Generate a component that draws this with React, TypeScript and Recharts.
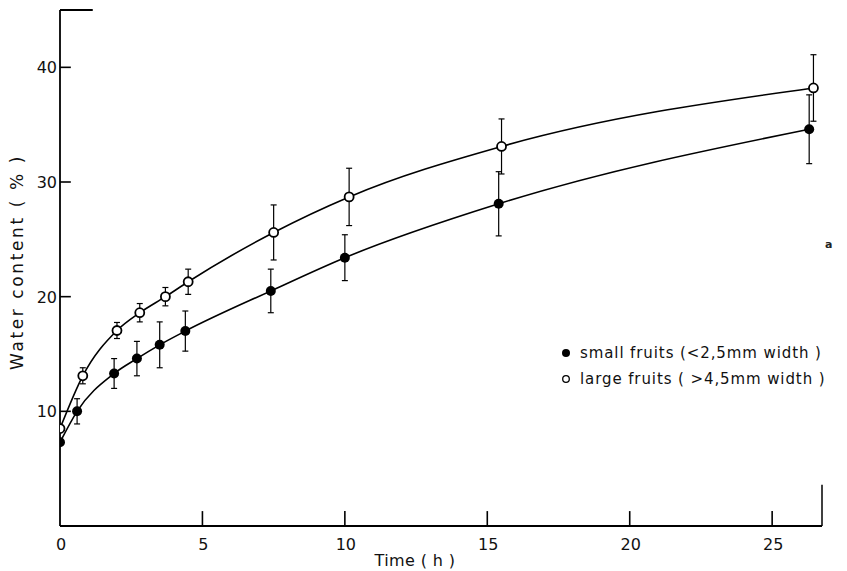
import React from "react";
import {
  ComposedChart,
  Line,
  XAxis,
  YAxis,
  ErrorBar,
  ReferenceLine,
  Legend,
} from "recharts";

// Small fruits (< 2,5 mm width) — filled circles
const smallTime = [0, 0.6, 1.9, 2.7, 3.5, 4.4, 7.4, 10.0, 15.4, 26.3];
const smallWater = [7.3, 10.0, 13.3, 14.6, 15.8, 17.0, 20.5, 23.4, 28.1, 34.6];
const smallErr = [0, 1.1, 1.3, 1.5, 2.0, 1.75, 1.9, 2.0, 2.8, 3.0];

// Large fruits (> 4,5 mm width) — open circles
const largeTime = [0, 0.8, 2.0, 2.8, 3.7, 4.5, 7.5, 10.15, 15.5, 26.45];
const largeWater = [8.5, 13.1, 17.05, 18.6, 20.0, 21.3, 25.6, 28.7, 33.1, 38.2];
const largeErr = [0, 0.7, 0.7, 0.8, 0.8, 1.1, 2.4, 2.5, 2.4, 2.9];

const xTicks = [0, 5, 10, 15, 20, 25];
const yTicks = [10, 20, 30, 40];
const seriesNames = ["small fruits (<2,5mm width )", "large fruits ( >4,5mm width )"];
const xTitle = "Time ( h )";
const yTitle = "Water content ( % )";

const smallData = smallTime.map((x, i) => ({ x, y: smallWater[i], err: smallErr[i] }));
const largeData = largeTime.map((x, i) => ({ x, y: largeWater[i], err: largeErr[i] }));

const FONT = "'DejaVu Sans', sans-serif";

const YTick = (props: any) => {
  const { x, y, payload } = props;
  return (
    <text x={x - 3} y={y} dy={6} textAnchor="end" fontFamily={FONT} fontSize={16} fill="#111">
      {payload.value}
    </text>
  );
};

const XTick = (props: any) => {
  const { x, y, payload } = props;
  return (
    <text x={x + 1} y={y} dy={24} textAnchor="middle" fontFamily={FONT} fontSize={16} fill="#111">
      {payload.value}
    </text>
  );
};

const XTitle = () => (
  <text x={415} y={566} textAnchor="middle" fontFamily={FONT} fontSize={16} letterSpacing={0.4} fill="#111">
    {xTitle}
  </text>
);

const YTitle = () => (
  <text
    x={0}
    y={0}
    transform="translate(23, 262) rotate(-90)"
    textAnchor="middle"
    fontFamily={FONT}
    fontSize={17}
    letterSpacing={2.6}
    fill="#111"
  >
    {yTitle}
  </text>
);

const LegendContent = () => (
  <div style={{ fontFamily: FONT, fontSize: 15, color: "#111", letterSpacing: 0.9 }}>
    <div style={{ display: "flex", alignItems: "center", height: 26 }}>
      <svg width={16} height={16}>
        <circle cx={8} cy={8} r={4} fill="#000" />
      </svg>
      <span style={{ marginLeft: 6 }}>{seriesNames[0]}</span>
    </div>
    <div style={{ display: "flex", alignItems: "center", height: 26 }}>
      <svg width={16} height={16}>
        <circle cx={8} cy={8} r={3.3} fill="#fff" stroke="#000" strokeWidth={1.3} />
      </svg>
      <span style={{ marginLeft: 6 }}>{seriesNames[1]}</span>
    </div>
  </div>
);

const FilledDot = (props: any) => {
  const { cx, cy } = props;
  return <circle cx={cx} cy={cy} r={5} fill="#000" />;
};
const OpenDot = (props: any) => {
  const { cx, cy } = props;
  return <circle cx={cx} cy={cy} r={4.5} fill="#fff" stroke="#000" strokeWidth={1.8} />;
};

export default function App() {
  return (
    <div style={{ position: "absolute", left: 0, top: 0, width: 847, height: 571, background: "#fff" }}>
      <ComposedChart width={847} height={571} margin={{ top: 10, right: 25, left: 0, bottom: 0 }}>
        <XAxis
          type="number"
          dataKey="x"
          domain={[0, 26.75]}
          ticks={xTicks}
          allowDataOverflow
          height={45}
          tickSize={0}
          tickMargin={0}
          tickLine={false}
          axisLine={{ stroke: "#000", strokeWidth: 1.8 }}
          tick={<XTick />}
          label={<XTitle />}
        />
        <YAxis
          type="number"
          domain={[0, 45]}
          ticks={yTicks}
          allowDataOverflow
          width={60}
          tickSize={0}
          tickMargin={0}
          tickLine={false}
          axisLine={{ stroke: "#000", strokeWidth: 1.8 }}
          tick={<YTick />}
          label={<YTitle />}
        />
        {/* inward tick marks */}
        {yTicks.map((t) => (
          <ReferenceLine
            key={"yt" + t}
            segment={[
              { x: 0, y: t },
              { x: 0.38, y: t },
            ]}
            stroke="#000"
            strokeWidth={1.6}
          />
        ))}
        {xTicks
          .filter((t) => t > 0)
          .map((t) => (
            <ReferenceLine
              key={"xt" + t}
              segment={[
                { x: t, y: 0 },
                { x: t, y: 1.3 },
              ]}
              stroke="#000"
              strokeWidth={1.6}
            />
          ))}
        {/* partial frame */}
        <ReferenceLine
          segment={[
            { x: 0, y: 45 },
            { x: 1.15, y: 45 },
          ]}
          stroke="#000"
          strokeWidth={1.8}
        />
        <ReferenceLine
          segment={[
            { x: 26.75, y: 0 },
            { x: 26.75, y: 3.6 },
          ]}
          stroke="#000"
          strokeWidth={1.5}
        />
        <Line
          data={smallData}
          dataKey="y"
          name={seriesNames[0]}
          type="monotone"
          stroke="#000"
          strokeWidth={1.6}
          dot={<FilledDot />}
          activeDot={false}
          isAnimationActive={false}
        >
          <ErrorBar dataKey="err" direction="y" width={3} stroke="#000" strokeWidth={1.2} />
        </Line>
        <Line
          data={largeData}
          dataKey="y"
          name={seriesNames[1]}
          type="monotone"
          stroke="#000"
          strokeWidth={1.6}
          dot={<OpenDot />}
          activeDot={false}
          isAnimationActive={false}
        >
          <ErrorBar dataKey="err" direction="y" width={3} stroke="#000" strokeWidth={1.2} />
        </Line>
        <Legend
          layout="vertical"
          align="center"
          verticalAlign="middle"
          content={<LegendContent />}
          wrapperStyle={{ left: 558, top: 340, width: 290 }}
        />
      </ComposedChart>
      <span
        style={{
          position: "absolute",
          left: 825,
          top: 238,
          fontFamily: FONT,
          fontSize: 11,
          fontWeight: "bold",
          color: "#222",
        }}
      >
        a
      </span>
    </div>
  );
}
